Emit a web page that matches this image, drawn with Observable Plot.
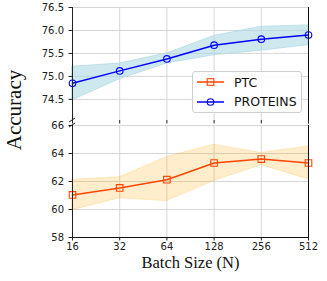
<!DOCTYPE html>
<html><head><meta charset="utf-8">
<script src="https://cdn.jsdelivr.net/npm/d3@7"></script>
<script src="https://cdn.jsdelivr.net/npm/@observablehq/plot@0.6"></script>
<style>
body{margin:0;background:#fff;}
#wrap{position:relative;width:327px;height:281px;overflow:hidden;font-family:"DejaVu Sans";}
#top,#bot{position:absolute;left:0;}
#top{top:0px;} #bot{top:120px;}
#ylab{position:absolute;left:14px;top:110px;transform:translate(-50%,-50%) rotate(-90deg);font-family:"Liberation Serif";font-size:21px;white-space:nowrap;color:#111;}
#legend{position:absolute;left:192px;top:71px;width:108px;height:40px;border:1px solid #d0d0d0;border-radius:3px;background:rgba(255,255,255,0.85);z-index:5;}
.row{position:absolute;left:4px;height:14px;display:flex;align-items:center;font-size:12.5px;color:#111;}
.row svg{display:block;margin-right:10px;}
</style></head>
<body>
<div id="wrap">
  <div id="top"></div>
  <div id="bot"></div>
  <div id="ylab">Accuracy</div>
  <div id="legend"></div>
</div>
<script>
const batchSizes = [16, 32, 64, 128, 256, 512];
const proteinsMean = [74.85, 75.12, 75.38, 75.68, 75.81, 75.90];
const proteinsLow  = [74.48, 74.94, 75.28, 75.46, 75.56, 75.68];
const proteinsHigh = [75.21, 75.28, 75.50, 75.88, 76.08, 76.11];
const ptcMean = [61.04, 61.54, 62.13, 63.32, 63.60, 63.32];
const ptcLow  = [59.95, 60.80, 60.60, 62.04, 63.16, 62.15];
const ptcHigh = [62.13, 62.30, 63.75, 64.63, 64.04, 64.50];
const topTicks = [74.5, 75.0, 75.5, 76.0, 76.5];
const botTicks = [58, 60, 62, 64, 66];
const seriesNames = ["PTC", "PROTEINS"];
const colors = {PTC: "#ff4500", PROTEINS: "#0000ff"};

const proteinsRows = batchSizes.map((n, i) => ({n, mean: proteinsMean[i], lo: proteinsLow[i], hi: proteinsHigh[i]}));
const ptcRows = batchSizes.map((n, i) => ({n, mean: ptcMean[i], lo: ptcLow[i], hi: ptcHigh[i]}));

const xScale = {type: "log", base: 2, domain: [16, 512]};
const common = {
  width: 327, marginLeft: 72, marginRight: 19,
  style: {background: "transparent", overflow: "visible", fontFamily: "DejaVu Sans", fontSize: "10px", color: "#222"}
};
const gridColor = "#d6d6d6";

function breakMark(where) {
  return (index, scales, values, dims) => {
    const g = d3.create("svg:g");
    const x0 = scales.x(16);
    const y0 = where === "top" ? scales.y.range ? null : null : null;
    const yy = where === "top" ? dims.height - dims.marginBottom : dims.marginTop;
    const ys = where === "top" ? [yy] : [yy];
    ys.forEach(y => {
      g.append("line").attr("x1", x0 - 3).attr("y1", y + 2).attr("x2", x0 + 3).attr("y2", y - 2)
        .attr("stroke", "#222").attr("stroke-width", 1);
    });
    return g.node();
  };
}

const topPlot = Plot.plot({
  ...common, height: 124, marginTop: 7, marginBottom: 4,
  x: xScale, y: {domain: [74.04, 76.5]},
  marks: [
    Plot.gridX({ticks: batchSizes, stroke: gridColor, strokeOpacity: 1}),
    Plot.gridY({ticks: topTicks, stroke: gridColor, strokeOpacity: 1}),
    Plot.areaY(proteinsRows, {x: "n", y1: "lo", y2: "hi", fill: "lightblue", fillOpacity: 0.6, stroke: "lightblue", strokeOpacity: 0.7}),
    Plot.line(proteinsRows, {x: "n", y: "mean", stroke: colors.PROTEINS, strokeWidth: 1.5}),
    Plot.dot(proteinsRows, {x: "n", y: "mean", symbol: "circle", r: 3.3, stroke: colors.PROTEINS, fill: "none", strokeWidth: 1.1}),
    Plot.axisY({ticks: topTicks, tickFormat: d => d.toFixed(1), tickSize: 3.5, tickPadding: 5, label: null, fontSize: 10}),
    Plot.axisX({ticks: batchSizes, tickFormat: () => "", tickSize: 3.5, label: null}),
    Plot.ruleX([16], {stroke: "#222"}),
    Plot.ruleX([512], {stroke: "#111"}),
    breakMark("top")
  ]
});

const botPlot = Plot.plot({
  ...common, height: 161, marginTop: 5, marginBottom: 44,
  x: xScale, y: {domain: [58, 66]},
  marks: [
    Plot.gridX({ticks: batchSizes, stroke: gridColor, strokeOpacity: 1}),
    Plot.gridY({ticks: botTicks, stroke: gridColor, strokeOpacity: 1}),
    Plot.areaY(ptcRows, {x: "n", y1: "lo", y2: "hi", fill: "orange", fillOpacity: 0.2, stroke: "orange", strokeOpacity: 0.2}),
    Plot.line(ptcRows, {x: "n", y: "mean", stroke: colors.PTC, strokeWidth: 1.5}),
    Plot.dot(ptcRows, {x: "n", y: "mean", symbol: "square", r: 3.7, stroke: colors.PTC, fill: "none", strokeWidth: 1.1}),
    Plot.axisY({ticks: botTicks, tickFormat: d => String(d), tickSize: 3.5, tickPadding: 5, label: null, fontSize: 10}),
    Plot.axisX({ticks: batchSizes, tickFormat: d => String(d), tickSize: 3.5, tickPadding: 2, label: null, fontSize: 10}),
    Plot.ruleX([16], {stroke: "#222"}),
    Plot.ruleX([512], {stroke: "#111"}),
    Plot.ruleY([58], {stroke: "#111"}),
    Plot.text(["Batch Size (N)"], {frameAnchor: "bottom", dy: 30, fontSize: 16.5, fontFamily: "Liberation Serif", fill: "#111"}),
    breakMark("bot")
  ]
});

document.getElementById("top").appendChild(topPlot);
document.getElementById("bot").appendChild(botPlot);

// legend
const legend = document.getElementById("legend");
seriesNames.forEach((name, i) => {
  const row = document.createElement("div");
  row.className = "row";
  row.style.top = (i === 0 ? 3 : 22.5) + "px";
  const sw = d3.create("svg").attr("width", 27).attr("height", 10);
  sw.append("line").attr("x1", 0).attr("x2", 27).attr("y1", 5).attr("y2", 5).attr("stroke", colors[name]).attr("stroke-width", 1.5);
  if (name === "PTC") {
    sw.append("rect").attr("x", 10.2).attr("y", 1.7).attr("width", 6.6).attr("height", 6.6).attr("fill", "none").attr("stroke", colors[name]).attr("stroke-width", 1.1);
  } else {
    sw.append("circle").attr("cx", 13.5).attr("cy", 5).attr("r", 3.3).attr("fill", "none").attr("stroke", colors[name]).attr("stroke-width", 1.1);
  }
  row.appendChild(sw.node());
  const t = document.createElement("span");
  t.textContent = name;
  row.appendChild(t);
  legend.appendChild(row);
});
</script>
</body></html>
